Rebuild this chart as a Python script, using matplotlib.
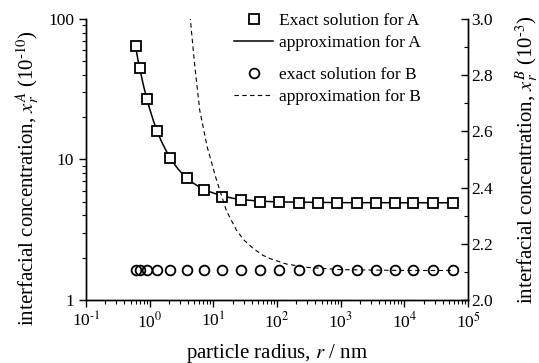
import numpy as np
import matplotlib
matplotlib.use('Agg')
from matplotlib import pyplot as plt
from matplotlib.ticker import LogLocator, MultipleLocator, NullFormatter, FixedLocator, FixedFormatter

plt.rcParams['font.family'] = ['Liberation Serif', 'DejaVu Serif']
plt.rcParams['mathtext.fontset'] = 'stix'
plt.rcParams['axes.unicode_minus'] = False
plt.rcParams['font.size'] = 12.5

# particle radius (nm) of the exact solutions
r_exact = [0.60, 0.71, 0.90, 1.29, 2.06, 3.81, 7.2, 13.7, 26.8, 53.3, 106, 218,
           434, 878, 1780, 3540, 7020, 13900, 27700, 57100]
# exact solution for A (10^-10)
xA_exact = [64.6, 44.6, 27.0, 15.9, 10.2, 7.35, 6.07, 5.45, 5.15, 5.01, 4.95,
            4.93, 4.92, 4.92, 4.92, 4.92, 4.92, 4.92, 4.92, 4.92]
# exact solution for B (10^-3)
xB_exact = [2.105] * 20

# approximation for A
r_apprA = [0.6, 0.65, 0.7, 0.8, 0.9, 1.0, 1.15, 1.3, 1.5, 1.75, 2.0, 2.4, 2.8,
           3.3, 4, 5, 6, 8, 10, 14, 20, 30, 50, 100, 1000, 10000, 60000]
xA_appr = [64.0, 52.1, 44.0, 33.5, 27.1, 22.9, 18.7, 16.1, 13.7, 11.9, 10.6,
           9.36, 8.54, 7.87, 7.26, 6.72, 6.39, 5.99, 5.77, 5.50, 5.30, 5.17,
           5.06, 4.99, 4.93, 4.92, 4.92]

# approximation for B
r_apprB = [4.2, 4.35, 5, 6.1, 8, 11.1, 16, 23, 30, 42, 60, 76.5, 140, 300,
           1000, 10000, 60000]
xB_appr = [3.04, 3.0, 2.853, 2.676, 2.545, 2.43, 2.318, 2.249, 2.214, 2.184,
           2.159, 2.148, 2.128, 2.116, 2.108, 2.105, 2.105]

x_ticks = [0.1, 1, 10, 100, 1000, 10000, 100000]
x_ticklabels = ['10$^{\\text{-}1}$', '10$^{0}$', '10$^{1}$', '10$^{2}$',
                '10$^{3}$', '10$^{4}$', '10$^{5}$']

fig = plt.figure(figsize=(5.39, 3.63), dpi=100)
ax = fig.add_axes([0.1596, 0.1736, 0.7087, 0.7741])
ax2 = ax.twinx()

lA, = ax.plot(r_apprA, xA_appr, c='k', lw=1.1)
mA, = ax.plot(r_exact, xA_exact, ls='none', marker='s', ms=6.5, mfc='white',
              mec='k', mew=1.3)
lB, = ax2.plot(r_apprB, xB_appr, c='k', lw=0.8, ls=(0, (4, 3)))
mB, = ax2.plot(r_exact, xB_exact, ls='none', marker='o', ms=7, mfc='none',
               mec='k', mew=1.3)

ax.set_xscale('log')
ax.set_yscale('log')
ax.set_xlim(0.1, 1e5)
ax.set_ylim(1, 100)
ax2.set_ylim(2.0, 3.0)

ax.xaxis.set_major_locator(FixedLocator(x_ticks))
ax.xaxis.set_major_formatter(FixedFormatter(x_ticklabels))
ax.xaxis.set_minor_locator(LogLocator(base=10, subs=np.arange(2, 10), numticks=10))
ax.xaxis.set_minor_formatter(NullFormatter())
ax.yaxis.set_major_locator(FixedLocator([1, 10, 100]))
ax.yaxis.set_major_formatter(FixedFormatter(['1', '10', '100']))
ax.yaxis.set_minor_locator(LogLocator(base=10, subs=np.arange(2, 10), numticks=10))
ax.yaxis.set_minor_formatter(NullFormatter())
ax2.yaxis.set_major_locator(MultipleLocator(0.2))
ax2.yaxis.set_minor_locator(MultipleLocator(0.1))
ax2.yaxis.set_major_formatter(plt.FormatStrFormatter('%.1f'))

for a in (ax, ax2):
  a.spines['top'].set_visible(False)
  for s in a.spines.values():
    s.set_linewidth(1.0)
ax.tick_params(which='major', direction='out', length=5, width=1)
ax.tick_params(which='minor', direction='out', length=3, width=0.8)
ax2.tick_params(which='major', direction='in', length=5, width=1, pad=2)
ax2.tick_params(which='minor', direction='in', length=3, width=0.8)

ax.set_xlabel('particle radius, $r$ / nm', fontsize=15, labelpad=7)
ax.set_ylabel('interfacial concentration, $x_r^A$ (10$^{\\text{-}10}$)',
              fontsize=15)
ax.yaxis.set_label_coords(-0.116, 0.434)
ax2.set_ylabel('interfacial concentration, $x_r^B$ (10$^{\\text{-}3}$)',
               fontsize=15, labelpad=15)

leg_kw = dict(loc='upper left', frameon=False, handlelength=2.25,
              handletextpad=0.3, labelspacing=0.35, borderaxespad=0)
legA = ax2.legend([mA, lA], ['Exact solution for A', 'approximation for A'],
                  bbox_to_anchor=(0.37, 1.046), **leg_kw)
ax2.add_artist(legA)
ax2.legend([mB, lB], ['exact solution for B', 'approximation for B'],
           bbox_to_anchor=(0.37, 0.855), **leg_kw)

fig.savefig('out.png', dpi=100)
